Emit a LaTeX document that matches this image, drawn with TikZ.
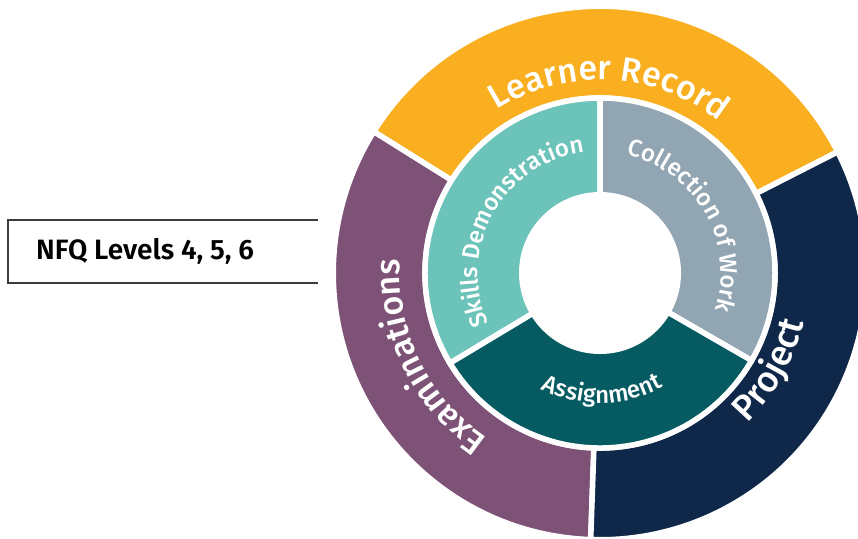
\documentclass[tikz,border=0pt]{standalone}
\usepackage{fontspec}
\setmainfont{Fira Sans}[BoldFont={Fira Sans Medium}]
\newfontfamily\boxfont{Fira Sans SemiBold}
\usepackage{tikz}
\usetikzlibrary{decorations.text}
\definecolor{recordOrange}{RGB}{249, 175, 32}
\definecolor{examPurple}{RGB}{126, 82, 118}
\definecolor{projectNavy}{RGB}{15, 39, 73}
\definecolor{skillsTeal}{RGB}{108, 195, 186}
\definecolor{workGrey}{RGB}{146, 165, 179}
\definecolor{assignTeal}{RGB}{5, 91, 97}
\definecolor{boxLine}{RGB}{60, 60, 60}
\tikzstyle{sector} = [draw=white, line width=5.5pt, line join=miter]
\tikzstyle{ringtext} = [decorate, decoration={text along path, text align=center, text color=white}]
\newcommand{\outerfont}{\bfseries\fontsize{34}{34}\selectfont}
\newcommand{\innerfont}{\bfseries\fontsize{24}{24}\selectfont}
% start angle, end angle, inner radius, outer radius, colour
\newcommand{\ringpart}[5]{%
  \filldraw[sector, fill=#5] (#1:#3) arc[start angle=#1, end angle=#2, radius=#3]
    -- (#2:#4) arc[start angle=#2, end angle=#1, radius=#4] -- cycle;}

\begin{document}
\begin{tikzpicture}[x=1pt, y=1pt]
\useasboundingbox (0,0) rectangle (858,538);

% level box on the left, open on its right side
\node (nfq) [anchor=west, font=\boxfont\fontsize{28}{28}\selectfont, text=black, inner sep=0pt] at (36,287) {NFQ Levels 4, 5, 6};
\draw [boxLine, line width=1.2pt] (318,318) -- (8,318) -- (8,255) -- (318,255);

\begin{scope}[shift={(600,265)}]
% outer ring
\ringpart{27}{148}{175pt}{266.75pt}{recordOrange}
\ringpart{148}{268}{175pt}{266.75pt}{examPurple}
\ringpart{-92}{27}{175pt}{266.75pt}{projectNavy}
% inner ring
\ringpart{90}{211}{78.25pt}{175pt}{skillsTeal}
\ringpart{-30}{90}{78.25pt}{175pt}{workGrey}
\ringpart{211}{330}{78.25pt}{175pt}{assignTeal}

% labels along the rings
\path [ringtext, decoration={text={|\outerfont|Learner Record}}]
  (147:193pt) arc[start angle=147, end angle=27, radius=193pt];
\path [ringtext, decoration={text={|\outerfont|Examinations}}]
  (266:200pt) arc[start angle=266, end angle=146, radius=200pt];
\path [ringtext, decoration={text={|\outerfont\fontsize{36}{36}\selectfont|Project}}]
  (-89.6:210pt) arc[start angle=-89.6, end angle=30.4, radius=210pt];
\path [ringtext, decoration={text={|\innerfont|Skills Demonstration}}]
  (210.9:122pt) arc[start angle=210.9, end angle=90.9, radius=122pt];
\path [ringtext, decoration={text={|\innerfont|Collection of Work}}]
  (89.8:121pt) arc[start angle=89.8, end angle=-30.2, radius=121pt];
\path [ringtext, decoration={text={|\innerfont|Assignment}}]
  (211:130pt) arc[start angle=211, end angle=331, radius=130pt];
\end{scope}
\end{tikzpicture}
\end{document}
